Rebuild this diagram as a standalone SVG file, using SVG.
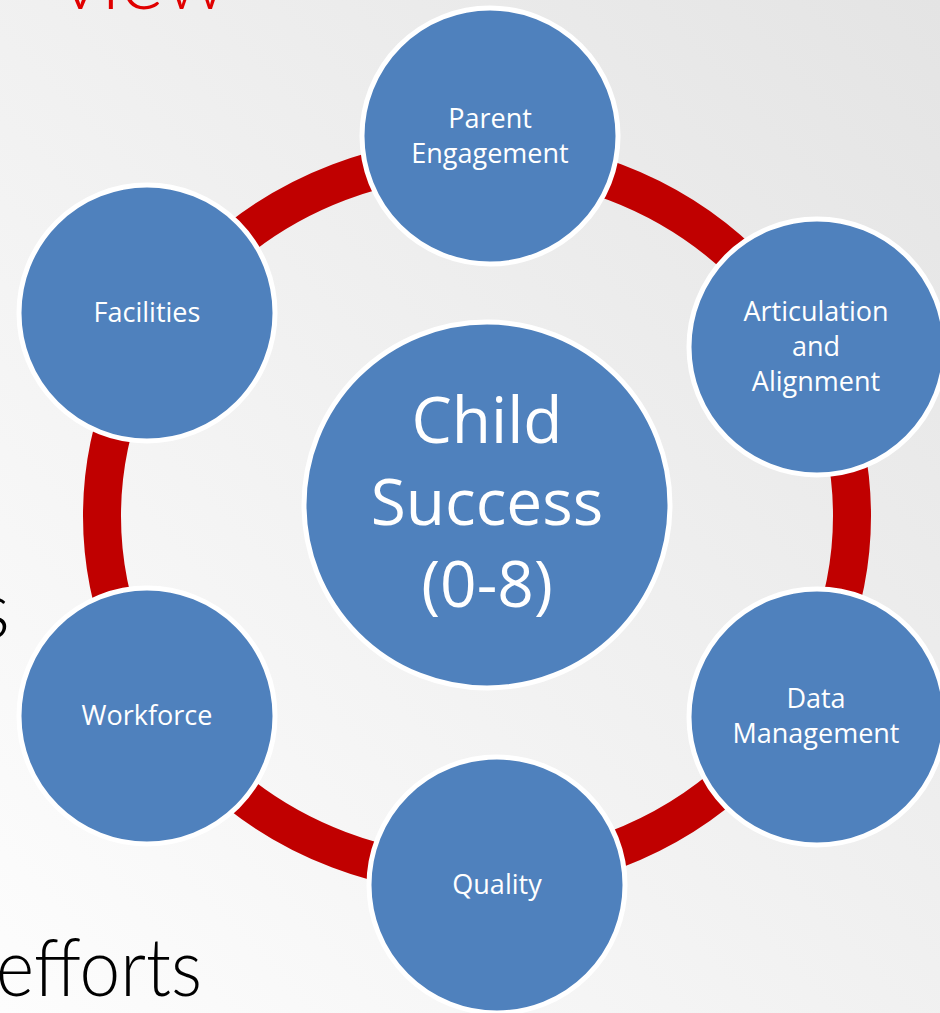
<svg xmlns="http://www.w3.org/2000/svg" width="940" height="1013" viewBox="0 0 940 1013">
<defs>
<linearGradient id="bg" x1="0" y1="1" x2="1" y2="0">
<stop offset="0" stop-color="#fdfdfd"/>
<stop offset="1" stop-color="#e4e4e4"/>
</linearGradient>
<style>
.node{fill:#4F81BD;stroke:#ffffff;stroke-width:5}
.lbl{fill:#ffffff;font-family:"Open Sans","Noto Sans",sans-serif;font-size:27px;text-anchor:middle}
.big{fill:#ffffff;font-family:"Open Sans","Noto Sans",sans-serif;font-size:64px;text-anchor:middle}
.bg-text{font-family:Lato,"Liberation Sans",sans-serif;font-weight:300}
</style>
</defs>
<rect width="940" height="1013" fill="url(#bg)"/>
<text class="bg-text" x="228" y="9" font-size="84" fill="#E00000" text-anchor="end">view</text>
<text class="bg-text" x="10" y="638" font-size="80" fill="#000000" text-anchor="end">s</text>
<text class="bg-text" x="-4" y="996" font-size="80" fill="#000000" textLength="206" lengthAdjust="spacingAndGlyphs">efforts</text>
<g id="connectors">
<ellipse cx="477" cy="516" rx="375" ry="359" fill="none" stroke="#C00000" stroke-width="38"/>
</g>
<g id="center">
<circle class="node" cx="487" cy="505" r="183" stroke-width="3"/>
<text class="big" x="487" y="443">Child</text>
<text class="big" x="487" y="525">Success</text>
<text class="big" x="487" y="607">(0-8)</text>
</g>
<g id="parent">
<circle class="node" cx="490" cy="136" r="128"/>
<text class="lbl" x="490" y="128">Parent</text>
<text class="lbl" x="490" y="163">Engagement</text>
</g>
<g id="articulation">
<circle class="node" cx="817" cy="347" r="128"/>
<text class="lbl" x="816" y="321">Articulation</text>
<text class="lbl" x="816" y="356">and</text>
<text class="lbl" x="816" y="391">Alignment</text>
</g>
<g id="data">
<circle class="node" cx="817" cy="717" r="128"/>
<text class="lbl" x="816" y="708">Data</text>
<text class="lbl" x="816" y="743">Management</text>
</g>
<g id="quality">
<circle class="node" cx="497" cy="885" r="128"/>
<text class="lbl" x="497" y="894">Quality</text>
</g>
<g id="workforce">
<circle class="node" cx="147" cy="716" r="128"/>
<text class="lbl" x="147" y="725">Workforce</text>
</g>
<g id="facilities">
<circle class="node" cx="147" cy="313" r="128"/>
<text class="lbl" x="147" y="322">Facilities</text>
</g>
</svg>
